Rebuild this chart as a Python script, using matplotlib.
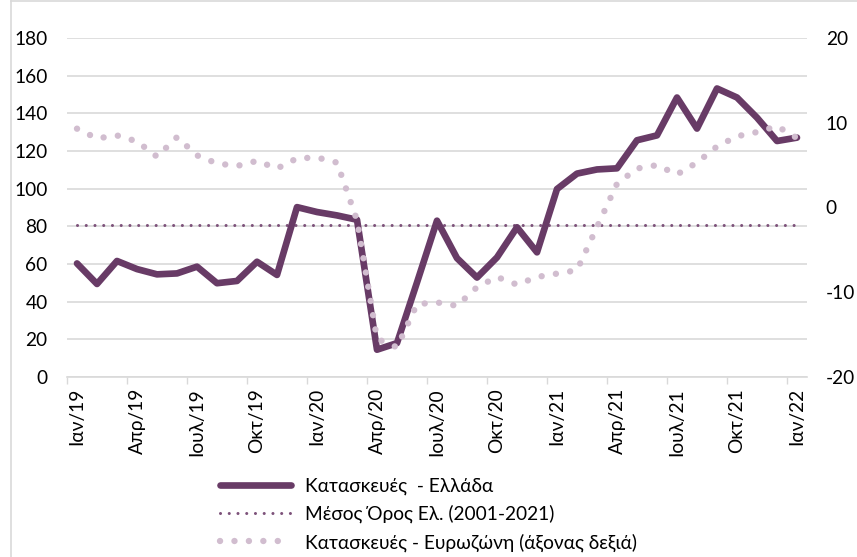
import matplotlib
matplotlib.use("Agg")
import matplotlib.pyplot as plt
from matplotlib.lines import Line2D
from matplotlib.ticker import FixedLocator

plt.rcParams['font.family'] = ['Lato', 'Open Sans', 'DejaVu Sans']
plt.rcParams['axes.unicode_minus'] = False

# Monthly data, Jan 2019 - Jan 2022
months = list(range(37))
tick_labels = ['Ιαν/19', 'Απρ/19', 'Ιουλ/19', 'Οκτ/19', 'Ιαν/20', 'Απρ/20', 'Ιουλ/20',
               'Οκτ/20', 'Ιαν/21', 'Απρ/21', 'Ιουλ/21', 'Οκτ/21', 'Ιαν/22']

greece = [60.3, 49.4, 61.6, 57.3, 54.5, 55.0, 58.6, 49.8, 51.0, 61.2, 54.2, 90.2,
          87.6, 85.8, 83.5, 14.5, 18.0, 50.2, 83.0, 63.1, 52.8, 63.5, 79.5, 66.2,
          99.8, 108.0, 110.2, 110.8, 125.7, 128.3, 148.4, 131.9, 153.2, 148.4,
          137.7, 125.3, 127.1]
greece_avg = [80.6] * 37
eurozone = [9.3, 8.15, 8.5, 7.8, 6.0, 8.3, 6.15, 5.2, 4.9, 5.5, 4.6, 5.8,
            5.9, 5.3, -1.5, -15.5, -16.5, -11.4, -11.2, -11.6, -9.4, -8.2, -9.1, -8.2,
            -7.8, -7.4, -2.3, 2.8, 4.6, 5.0, 3.9, 5.3, 7.2, 8.4, 8.9, 9.6, 8.2]

dark = '#683B66'
avg_col = '#7D527A'
light = '#D1BDCF'
grid_col = '#D9D9D9'
fs = 13.8

fig = plt.figure(figsize=(8.57, 5.57), dpi=100)
ax = fig.add_axes([67/857, 1 - 377/557, 740/857, 339/557])
ax2 = ax.twinx()

l1, = ax.plot(months, greece, color=dark, lw=4.8, solid_capstyle='round',
              solid_joinstyle='round', zorder=3, label='Κατασκευές  - Ελλάδα')
l2, = ax.plot(months, greece_avg, color=avg_col, lw=2.2, linestyle=(0, (0.01, 2.85)),
              dash_capstyle='round', zorder=2, label='Μέσος Όρος Ελ. (2001-2021)')
l3, = ax2.plot(months, eurozone, color=light, lw=4.6, linestyle=(0, (0.01, 2.25)),
               dash_capstyle='round', zorder=3, label='Κατασκευές - Ευρωζώνη (άξονας δεξιά)')

ax.set_xlim(-0.5, 36.5)
ax.set_ylim(0, 180)
ax2.set_ylim(-20, 20)
ax.set_yticks(range(0, 181, 20))
ax2.set_yticks([-20, -10, 0, 10, 20])

ax.set_xticks(range(0, 37, 3))
ax.set_xticklabels(tick_labels, rotation=90)
ax.xaxis.set_minor_locator(FixedLocator([k * 3 - 0.5 for k in range(13)]))
ax.tick_params(axis='x', which='major', length=0, pad=8, labelsize=fs, colors='black')
ax.tick_params(axis='x', which='minor', length=5, width=1, color=grid_col)
ax.tick_params(axis='y', length=0, pad=14, labelsize=fs)
ax2.tick_params(axis='y', length=0, pad=13.5, labelsize=fs)

ax.grid(axis='y', color=grid_col, lw=1.2)
ax.set_axisbelow(True)
for a in (ax, ax2):
    for s in ('top', 'left', 'right'):
        a.spines[s].set_visible(False)
    a.spines['bottom'].set_color(grid_col)
    a.spines['bottom'].set_linewidth(1.2)
ax2.spines['bottom'].set_visible(False)

# chart area border
fig.add_artist(Line2D([11/857, 11/857], [0, 1 - 1/557], color=grid_col, lw=1.2))
fig.add_artist(Line2D([11/857, 1], [1 - 1/557, 1 - 1/557], color=grid_col, lw=1.2))

fig.legend(handles=[l1, l2, l3], loc='upper left', bbox_to_anchor=(220/857, 1 - 478/557),
           frameon=False, fontsize=fs, handlelength=3.7, handletextpad=0.75,
           labelspacing=0.5, borderpad=0, borderaxespad=0)

fig.savefig('out.png', dpi=100, facecolor='white')
